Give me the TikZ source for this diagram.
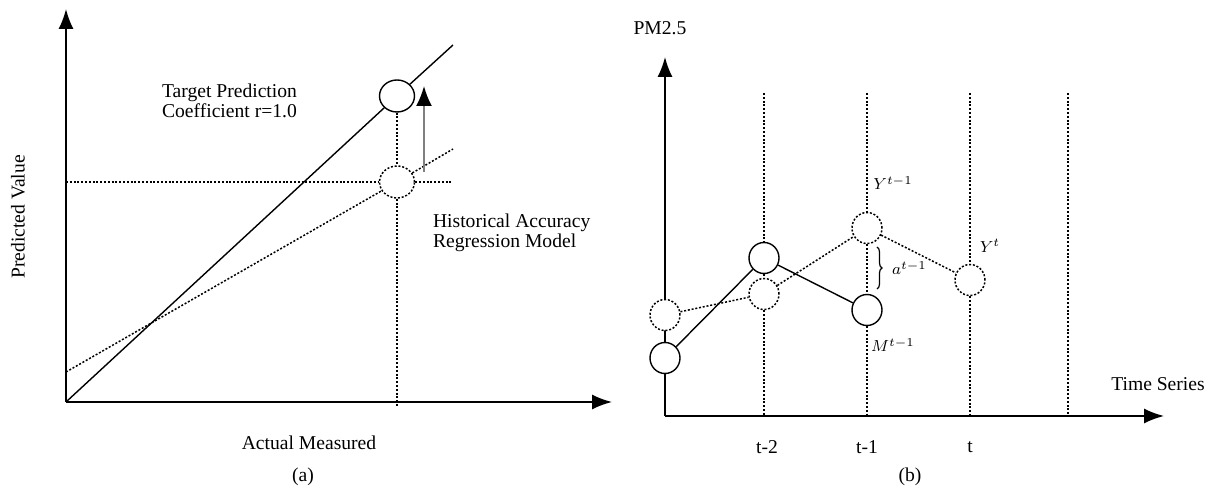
\documentclass[tikz,border=0pt]{standalone}
\usepackage{fontspec}
\setmainfont{Liberation Serif}
\usetikzlibrary{arrows.meta, shapes.geometric, decorations.pathreplacing, positioning}

\begin{document}
\begin{tikzpicture}[x=0.5pt, y=-0.5pt,
    every node/.style={font=\fontsize{9.8}{9.7}\selectfont},
    axis/.style={line width=0.8pt, -{Latex[length=10pt,width=7.5pt]}},
    dots/.style={line width=0.75pt, dash pattern=on 1pt off 0.9pt},
    bigpt/.style={ellipse, draw, line width=0.7pt, fill=white, inner sep=0pt,
      minimum width=17.5pt, minimum height=16pt},
    smallpt/.style={bigpt, minimum width=15pt, minimum height=15.5pt},
    sym/.style={font=\fontsize{8.5}{9}\selectfont}]
  \useasboundingbox (0,0) rectangle (1207,496);

  % ---- (a) predicted vs. measured
  \coordinate (Oa) at (66,402);
  \draw[axis] (Oa) -- (66,9);
  \draw[axis] (Oa) -- (612,402);

  \node[bigpt] (tgt) at (397,96) {};
  \node[bigpt, dots] (hist) at (397,182) {};

  \coordinate (ideal) at (453,45);
  \coordinate (hl) at (66,182);
  \coordinate (hr) at (453,182);
  \coordinate (rl) at (66,372);
  \coordinate (rr) at (453,149);
  \coordinate (vb) at (397,407);

  \draw[line width=0.7pt] (Oa) -- (tgt) -- (ideal);
  \draw[dots] (hl) -- (hist) -- (hr);
  \draw[dots] (rl) -- (hist) -- (rr);
  \draw[dots] (tgt) -- (hist) -- (vb);

  \coordinate (ua) at (424,172);
  \coordinate (ub) at (424,86);
  \draw[line width=0.9pt, black!50, -{Latex[length=10pt,width=8pt,color=black]}] (ua) -- (ub);

  \node[align=left, anchor=west] (tgtlbl) at (155,101) {Target Prediction\\Coefficient r=1.0};
  \node[align=left, anchor=west] (histlbl) at (426,233) {Historical Accuracy\\Regression Model};
  \node[rotate=90] (ylbl) at (18,217) {Predicted Value};
  \node (xlbl) at (309,443) {Actual Measured};
  \node (capa) at (303,477) {(a)};

  % ---- (b) PM2.5 over the time series
  \coordinate (Ob) at (665,416);
  \draw[axis] (Ob) -- (665,57);
  \draw[axis] (Ob) -- (1164,416);

  \foreach \x [count=\i] in {764,867,970,1068} {
    \coordinate (top\i) at (\x,93);
    \coordinate (bot\i) at (\x,416);
  }

  % model output (solid) and observed values (dashed)
  \node[smallpt] (s1) at (665,358) {};
  \node[smallpt] (s2) at (764,258) {};
  \node[smallpt] (s3) at (867,310) {};
  \node[smallpt, dots] (c1) at (665,315) {};
  \node[smallpt, dots] (c2) at (764,294) {};
  \node[smallpt, dots] (c3) at (867,228) {};
  \node[smallpt, dots] (c4) at (970,280) {};

  \draw[dots] (top1) -- (s2) -- (c2) -- (bot1);
  \draw[dots] (top2) -- (c3) -- (s3) -- (bot2);
  \draw[dots] (top3) -- (c4) -- (bot3);
  \draw[dots] (top4) -- (bot4);

  \draw[line width=0.7pt] (s1) -- (s2) -- (s3);
  \draw[dots] (c1) -- (c2) -- (c3) -- (c4);

  \coordinate (bt) at (877,247);
  \coordinate (bb) at (877,289);
  \draw[line width=0.6pt, decorate, decoration={brace, amplitude=2.5pt}] (bt) -- (bb);

  \node[sym, anchor=west] (alpha) at (885,268) {$a^{t-1}$};
  \node[sym] (ylast) at (893,183) {$Y^{t-1}$};
  \node[sym] (ynow) at (990,246) {$Y^{t}$};
  \node[sym] (mlast) at (893,345) {$M^{t-1}$};

  \node (pm) at (660,28) {PM2.5};
  \node (tsl) at (1158,384) {Time Series};
  \node (t2) at (767,447) {t-2};
  \node (t1) at (867,447) {t-1};
  \node (t0) at (970,447) {t};
  \node (capb) at (910,477) {(b)};
\end{tikzpicture}
\end{document}
